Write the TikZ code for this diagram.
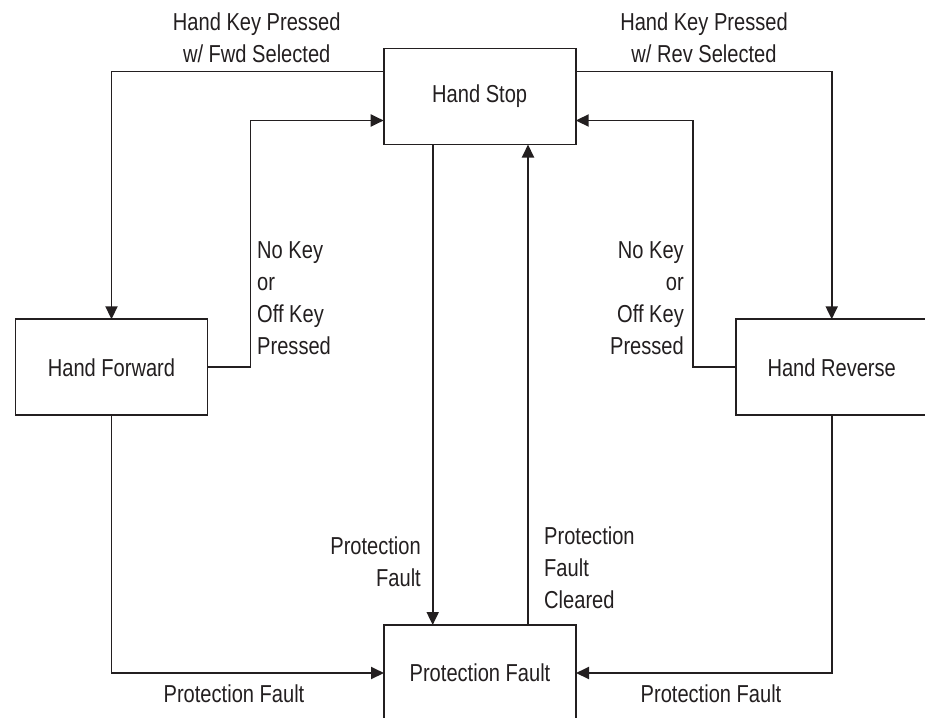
\documentclass[tikz,border=0pt]{standalone}
\usepackage{fontspec}
\setmainfont[FakeStretch=0.82]{Liberation Sans}
\usetikzlibrary{arrows.meta}
\definecolor{ink}{RGB}{35,31,32}
\begin{document}
\begin{tikzpicture}[x=1pt,y=-1pt,
  font=\fontsize{24.5}{32}\selectfont,
  every node/.style={text=ink},
  state/.style={draw=ink, line width=1.9pt, minimum width=192pt, minimum height=96pt, outer sep=0pt, inner sep=0pt},
  lbl/.style={inner sep=0pt},
  conn/.style={draw=ink, line width=1.9pt},
  arr/.style={conn, -{Triangle[length=13pt,width=12pt]}}]
\useasboundingbox (0,0) rectangle (925,717);
\node[state] (HS) at (479.7,96.5) {Hand Stop};
\node[state] (HF) at (111.5,367.3) {Hand Forward};
\node[state] (HR) at (831.7,367.3) {Hand Reverse};
\node[state] (PF) at (480,673) {Protection Fault};

\draw[arr] ([yshift=-23pt]HS.north west) -| (HF.north);
\draw[arr] (HF.east) -- ++(43,0) |- ([yshift=-72pt]HS.north west);
\draw[arr] ([yshift=-23pt]HS.north east) -| (HR.north);
\draw[arr] (HR.west) -- ++(-43,0) |- ([yshift=-72pt]HS.north east);
\draw[arr] ([xshift=-47pt]HS.south) -- ([xshift=-47pt]HS.south |- PF.north);
\draw[arr] ([xshift=48pt]PF.north) -- ([xshift=48pt]PF.north |- HS.south);
\draw[arr] (HF.south) |- (PF.west);
\draw[arr] (HR.south) |- (PF.east);

\node[lbl, align=center] (lfwd) at (256.7,38) {Hand Key Pressed\\w/ Fwd Selected};
\node[lbl, align=center] (lrev) at (704,38) {Hand Key Pressed\\w/ Rev Selected};
\node[lbl, align=left, anchor=west] (lnkl) at (257,298) {No Key\\or\\Off Key\\Pressed};
\node[lbl, align=right, anchor=east] (lnkr) at (684,298) {No Key\\or\\Off Key\\Pressed};
\node[lbl, align=right, anchor=east] (lpf) at (421,562) {Protection\\Fault};
\node[lbl, align=left, anchor=west] (lpfc) at (544,568) {Protection\\Fault\\Cleared};
\node[lbl] (lbl1) at (234,694) {Protection Fault};
\node[lbl] (lbr) at (711,694) {Protection Fault};
\end{tikzpicture}
\end{document}
